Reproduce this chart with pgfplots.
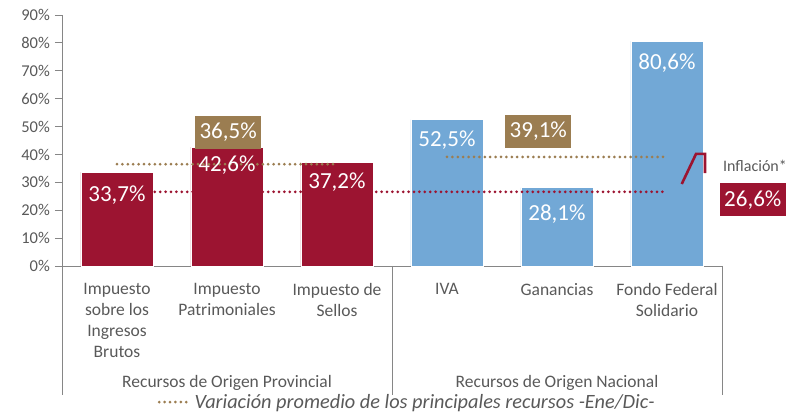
\documentclass[border=0pt]{standalone}
\usepackage{fontspec}
\setmainfont{Carlito}
\usepackage{pgfplots}
\pgfplotsset{compat=1.18}
\definecolor{cRed}{RGB}{156,20,49}
\definecolor{cBlue}{RGB}{114,168,214}
\definecolor{cGold}{RGB}{155,125,81}
\definecolor{cTxt}{RGB}{89,89,89}
\definecolor{cAxis}{RGB}{134,134,134}
\begin{document}
\begin{tikzpicture}
\begin{axis}[
  scale only axis, width=660pt, height=251pt,
  xmin=-0.5, xmax=5.5, ymin=0, ymax=90,
  clip=false,
  axis x line=bottom, axis y line=left,
  axis line style={-, draw=cAxis, line width=0.8pt},
  xtick={0,1,2,3,4,5},
  xticklabels={{Impuesto\\sobre los\\Ingresos\\Brutos},{Impuesto\\Patrimoniales},{Impuesto de\\Sellos},{IVA},{Ganancias},{Fondo Federal\\Solidario}},
  major x tick style={draw=none},
  xticklabel style={font=\fontsize{17.5}{21}\selectfont, text=cTxt, align=center, anchor=north, inner sep=0pt, yshift=-10pt},
  ytick={0,10,20,30,40,50,60,70,80,90},
  yticklabels={0\%,10\%,20\%,30\%,40\%,50\%,60\%,70\%,80\%,90\%},
  yticklabel style={font=\fontsize{16.5}{18}\selectfont, text=cTxt, inner sep=0pt, xshift=-5pt},
  tick align=outside, major tick length=7pt,
  major y tick style={draw=cAxis, line width=0.8pt},
  legend style={at={(0.523,-0.542)}, anchor=center, draw=none, fill=none,
    font=\itshape\fontsize{20.3}{22}\selectfont, text=cTxt, inner sep=0pt},
  legend cell align=left,
  legend image code/.code={\draw[#1] (0pt,0pt) -- (32pt,0pt);},
]
\addplot[ybar, bar width=72pt, bar shift=0pt, fill=cRed, draw=white, line width=0.5pt, forget plot]
  coordinates {(0,33.7) (1,42.6) (2,37.2)};
\addplot[ybar, bar width=72pt, bar shift=0pt, fill=cBlue, draw=white, line width=0.5pt, forget plot]
  coordinates {(3,52.5) (4,28.1) (5,80.6)};
\addplot[cGold, line width=3pt, line cap=round, dash pattern=on 0pt off 5.4pt]
  coordinates {(0,36.5) (2,36.5)};
\addlegendentry{Variación promedio de los principales recursos -Ene/Dic-}
\addplot[cGold, line width=3pt, line cap=round, dash pattern=on 0pt off 5.4pt, forget plot]
  coordinates {(3,39.1) (5,39.1)};
\addplot[cRed, line width=3pt, line cap=round, dash pattern=on 0pt off 5.4pt, forget plot]
  coordinates {(0,26.6) (5,26.6)};
\addplot[cRed, line width=2.6pt, forget plot]
  coordinates {(5.134,29.4) (5.264,40.2) (5.345,40.2) (5.345,33.3)};
\addplot[draw=none, mark=none, forget plot, nodes near coords, point meta=explicit symbolic,
  nodes near coords style={anchor=center, text=white, font=\fontsize{23}{25}\selectfont}]
  coordinates {(0,25.5) [33,7\%] (1,36.2) [42,6\%] (2,29.9) [37,2\%]
               (3,45.2) [52,5\%] (4,18.6) [28,1\%] (5,72.7) [80,6\%]};
\node[fill=cGold, text=white, font=\fontsize{23}{25}\selectfont, minimum width=66pt, minimum height=33pt, inner sep=0pt] at (axis cs:1.01,48.0) {36,5\%};
\node[fill=cGold, text=white, font=\fontsize{23}{25}\selectfont, minimum width=66pt, minimum height=33pt, inner sep=0pt] at (axis cs:3.83,48.4) {39,1\%};
\node[fill=cRed, text=white, font=\fontsize{23}{25}\selectfont, minimum width=66pt, minimum height=33pt, inner sep=0pt] at (axis cs:5.78,23.7) {26,6\%};
\node[text=cTxt, font=\fontsize{16}{18}\selectfont] at (axis cs:5.80,36.0) {Inflación*};
\draw[cAxis, line width=0.8pt] (axis cs:-0.5,0) -- (axis cs:-0.5,-46.25);
\draw[cAxis, line width=0.8pt] (axis cs:2.5,0) -- (axis cs:2.5,-46.25);
\draw[cAxis, line width=0.8pt] (axis cs:5.5,0) -- (axis cs:5.5,-46.25);
\node[text=cTxt, font=\fontsize{17.5}{21}\selectfont] at (axis cs:1,-42.06) {Recursos de Origen Provincial};
\node[text=cTxt, font=\fontsize{17.5}{21}\selectfont] at (axis cs:4,-42.06) {Recursos de Origen Nacional};
\end{axis}
\pgfresetboundingbox
\useasboundingbox (current axis.south west) ++(-62pt,-148pt) rectangle ++(793pt,414pt);
\end{tikzpicture}
\end{document}
